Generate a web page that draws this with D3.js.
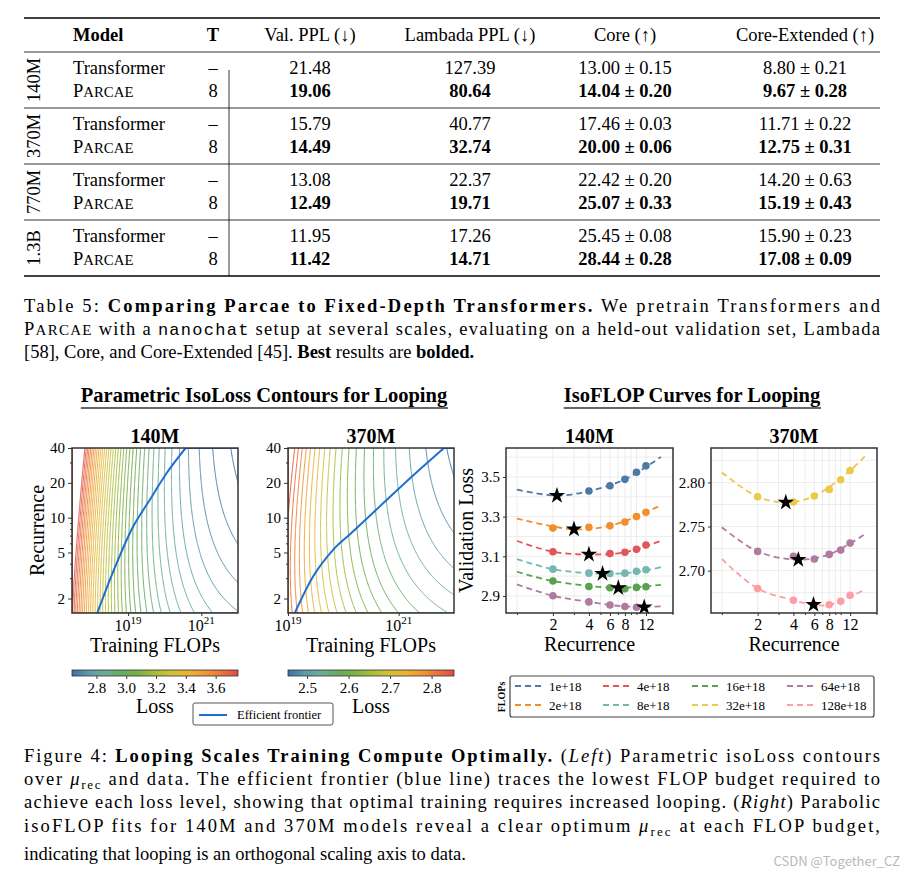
<!DOCTYPE html>
<html>
<head>
<meta charset="UTF-8" />
<script src="https://cdn.jsdelivr.net/npm/d3@7"></script>
<style>
  body { margin: 0; background: #fff; }
  svg { display: block; font-family: 'Liberation Serif', serif; }
</style>
</head>
<body>
<div id="chart"></div>
<script>
// ---- table data ----
const sizes = ['140M', '370M', '770M', '1.3B']
const tableHeaders = ['Model', 'T', 'Val. PPL (↓)', 'Lambada PPL (↓)', 'Core (↑)', 'Core-Extended (↑)']
const transformerRows = [
  ['21.48', '127.39', '13.00 ± 0.15', '8.80 ± 0.21'],
  ['15.79', '40.77', '17.46 ± 0.03', '11.71 ± 0.22'],
  ['13.08', '22.37', '22.42 ± 0.20', '14.20 ± 0.63'],
  ['11.95', '17.26', '25.45 ± 0.08', '15.90 ± 0.23'],
]
const parcaeRows = [
  ['19.06', '80.64', '14.04 ± 0.20', '9.67 ± 0.28'],
  ['14.49', '32.74', '20.00 ± 0.06', '12.75 ± 0.31'],
  ['12.49', '19.71', '25.07 ± 0.33', '15.19 ± 0.43'],
  ['11.42', '14.71', '28.44 ± 0.28', '17.08 ± 0.09'],
]

// ---- isoLoss contour fits (parametric law: L = E + a r^-p + b (r^s C0 / C)^q) ----
const fit140 = { E: 2.532, a: 0.193, p: 0.40, b: 0.688, q: 0.3, s: 0.35, C0: 18 }
const fit370 = { E: 2.356, a: 0.161, p: 0.40, b: 0.329, q: 0.3, s: 0.35, C0: 19 }
const levels140 = [2.65, 2.68, 2.71, 2.74, 2.77, 2.80, 2.83, 2.86, 2.89, 2.92, 2.95, 2.98, 3.01,
  3.04, 3.07, 3.10, 3.13, 3.16, 3.19, 3.22, 3.25, 3.28, 3.31, 3.34, 3.37, 3.40, 3.43, 3.46, 3.49,
  3.52, 3.55, 3.58, 3.61, 3.64, 3.67, 3.70, 3.73]
const levels370 = [2.46, 2.48, 2.50, 2.52, 2.54, 2.56, 2.58, 2.60, 2.62, 2.64, 2.66, 2.68, 2.70,
  2.72, 2.74, 2.76, 2.78, 2.80, 2.82, 2.84]
// efficient frontier: [log10 FLOPs, recurrence]
const frontier140 = [[18.155, 1.49], [18.50, 2.89], [18.75, 4.5], [19.09, 7.82], [19.59, 14.2], [20.05, 24.2], [20.57, 40]]
const frontier370 = [[19.12, 1.49], [19.45, 3.08], [19.81, 5.25], [20.14, 7.33], [20.65, 12.4], [21.37, 25.8], [21.82, 40]]

// ---- isoFLOP curves ----
const budgets140 = ['1e+18', '2e+18', '4e+18', '8e+18', '16e+18', '64e+18']
const budgets370 = ['32e+18', '64e+18', '128e+18']
const legendBudgets = ['1e+18', '2e+18', '4e+18', '8e+18', '16e+18', '32e+18', '64e+18', '128e+18']
const budgetColors = {
  '1e+18': '#4e79a7', '2e+18': '#f28e2b', '4e+18': '#e15759', '8e+18': '#76b7b2',
  '16e+18': '#59a14f', '32e+18': '#edc948', '64e+18': '#b07aa1', '128e+18': '#ff9da7',
}
const recurrence = [2, 4, 6, 8, 10, 12]
const loss140 = {
  '1e+18': [null, 3.429, 3.456, 3.488, 3.524, 3.556],
  '2e+18': [3.242, 3.246, 3.254, 3.273, 3.300, 3.322],
  '4e+18': [3.123, null, 3.114, 3.120, 3.135, 3.157],
  '8e+18': [3.035, 3.015, 3.013, 3.015, 3.024, 3.032],
  '16e+18': [2.975, 2.948, 2.941, 2.936, 2.943, 2.946],
  '64e+18': [2.901, 2.870, 2.854, 2.847, 2.843, null],
}
const fitCurve140 = {
  '1e+18': [[1, 3.436], [2.16, 3.406], [4, 3.429], [8, 3.488], [16, 3.601]],
  '2e+18': [[1, 3.290], [3.0, 3.236], [6, 3.254], [12, 3.322], [16, 3.357]],
  '4e+18': [[1, 3.177], [2, 3.123], [4, 3.109], [8, 3.120], [16, 3.178]],
  '8e+18': [[1, 3.086], [2, 3.035], [5.2, 3.012], [10, 3.020], [16, 3.045]],
  '16e+18': [[1, 3.022], [2, 2.975], [7, 2.941], [16, 2.956]],
  '64e+18': [[1, 2.958], [2, 2.901], [4, 2.870], [8, 2.847], [16, 2.847]],
}
const optimum140 = {
  '1e+18': [2.16, 3.406], '2e+18': [3.0, 3.236], '4e+18': [4, 3.109],
  '8e+18': [5.2, 3.012], '16e+18': [7.05, 2.940], '64e+18': [11.6, 2.843],
}
const loss370 = {
  '32e+18': [2.7838, 2.7778, 2.7846, 2.7921, 2.8030, 2.8135],
  '64e+18': [2.7218, 2.7162, 2.7132, 2.7184, 2.7233, 2.7312],
  '128e+18': [2.6797, 2.6665, 2.6617, 2.6613, 2.6654, 2.6722],
}
const fitCurve370 = {
  '32e+18': [[1, 2.8113], [2, 2.7838], [3.45, 2.7774], [6, 2.7846], [12, 2.8135], [16, 2.8297]],
  '64e+18': [[1, 2.7492], [2, 2.7218], [4.4, 2.7124], [8, 2.7184], [16, 2.7414]],
  '128e+18': [[1, 2.7132], [2, 2.6797], [4, 2.6665], [5.9, 2.6613], [8, 2.6613], [16, 2.6786]],
}
const optimum370 = { '32e+18': [3.45, 2.7774], '64e+18': [4.4, 2.7124], '128e+18': [5.9, 2.6613] }

const W = 904, H = 876
const svg = d3.select('#chart').append('svg').attr('width', W).attr('height', H)
const cmFont = "'Liberation Serif', serif"

// ================= TABLE =================
const tbl = svg.append('g').style('font-size', '18.5px').style('font-family', cmFont)
const colX = [73, 213, 310, 470, 625, 805]
tbl.append('line').attr('x1', 24).attr('x2', 880).attr('y1', 18).attr('y2', 18).attr('stroke', '#000').attr('stroke-width', 1.3)
tbl.append('line').attr('x1', 24).attr('x2', 880).attr('y1', 52).attr('y2', 52).attr('stroke', '#000').attr('stroke-width', 0.8)
tbl.append('line').attr('x1', 24).attr('x2', 880).attr('y1', 276).attr('y2', 276).attr('stroke', '#000').attr('stroke-width', 1.3)
tableHeaders.forEach((h, i) => {
  tbl.append('text').attr('x', colX[i]).attr('y', 41)
    .attr('text-anchor', i === 0 ? 'start' : 'middle')
    .attr('font-weight', i < 2 ? 'bold' : 'normal').text(h)
})
tbl.append('line').attr('x1', 229).attr('x2', 229).attr('y1', 70).attr('y2', 276).attr('stroke', '#000').attr('stroke-width', 0.8)

function smallCaps(sel, word) {
  sel.append('tspan').text(word[0])
  sel.append('tspan').style('font-size', '0.8em').text(word.slice(1).toUpperCase())
}
sizes.forEach((s, k) => {
  const y0 = 52 + k * 56
  if (k > 0) tbl.append('line').attr('x1', 24).attr('x2', 880).attr('y1', y0).attr('y2', y0).attr('stroke', '#000').attr('stroke-width', 0.8)
  tbl.append('text').attr('transform', `translate(40,${y0 + 28}) rotate(-90)`)
    .attr('text-anchor', 'middle').text(s)
  tbl.append('text').attr('x', colX[0]).attr('y', y0 + 22).text('Transformer')
  smallCaps(tbl.append('text').attr('x', colX[0]).attr('y', y0 + 45), 'Parcae')
  tbl.append('text').attr('x', colX[1]).attr('y', y0 + 22).attr('text-anchor', 'middle').text('–')
  tbl.append('text').attr('x', colX[1]).attr('y', y0 + 45).attr('text-anchor', 'middle').text('8')
  transformerRows[k].forEach((v, j) => {
    tbl.append('text').attr('x', colX[j + 2]).attr('y', y0 + 22).attr('text-anchor', 'middle').text(v)
  })
  parcaeRows[k].forEach((v, j) => {
    tbl.append('text').attr('x', colX[j + 2]).attr('y', y0 + 45).attr('text-anchor', 'middle')
      .attr('font-weight', 'bold').text(v)
  })
})

// ---- captions (justified with textLength) ----
function captionLine(y, parts, justify, x0 = 24, x1 = 880) {
  const t = svg.append('text').attr('x', x0).attr('y', y).style('font-size', '18.5px').style('font-family', cmFont)
  if (justify) t.attr('textLength', x1 - x0).attr('lengthAdjust', 'spacing')
  parts.forEach(([txt, st]) => {
    const sp = t.append('tspan').text(txt)
    if (st === 'b') sp.attr('font-weight', 'bold')
    if (st === 'i') sp.attr('font-style', 'italic')
    if (st === 'sc') sp.style('font-size', '15px')
    if (st === 'tt') sp.style('font-family', "'Liberation Mono', monospace").style('font-size', '17px')
    if (st === 'sub') sp.style('font-size', '13px').attr('dy', 4)
    if (st === 'unsub') sp.attr('dy', -4)
  })
}
captionLine(312, [['Table 5: '], ['Comparing Parcae to Fixed-Depth Transformers.', 'b'], [' We pretrain Transformers and']], true)
captionLine(335, [['P'], ['ARCAE', 'sc'], [' with a '], ['nanochat', 'tt'], [' setup at several scales, evaluating on a held-out validation set, Lambada']], true)
captionLine(358, [['[58], Core, and Core-Extended [45]. '], ['Best', 'b'], [' results are '], ['bolded.', 'b']], false)

captionLine(762, [['Figure 4: '], ['Looping Scales Training Compute Optimally.', 'b'], [' ('], ['Left', 'i'], [') Parametric isoLoss contours']], true)
captionLine(785, [['over '], ['μ', 'i'], ['rec', 'sub'], [' and data.  The efficient frontier (blue line) traces the lowest FLOP budget required to', 'unsub']], true)
captionLine(808, [['achieve each loss level, showing that optimal training requires increased looping. ('], ['Right', 'i'], [') Parabolic']], true)
captionLine(832, [['isoFLOP fits for 140M and 370M models reveal a clear optimum '], ['μ', 'i'], ['rec', 'sub'], [' at each FLOP budget,', 'unsub']], true)
captionLine(860, [['indicating that looping is an orthogonal scaling axis to data.']], false)
svg.append('text').attr('x', 900).attr('y', 866).attr('text-anchor', 'end')
  .style('font-family', "'Noto Sans CJK SC', sans-serif").style('font-size', '13px').attr('fill', '#b8b8b8')
  .text('CSDN @Together_CZ')

// ================= SECTION TITLES =================
function sectionTitle(cx, txt) {
  const t = svg.append('text').attr('x', cx).attr('y', 402).attr('text-anchor', 'middle')
    .style('font-size', '20.5px').attr('font-weight', 'bold').text(txt)
  const bb = t.node().getBBox()
  svg.append('line').attr('x1', bb.x).attr('x2', bb.x + bb.width).attr('y1', 408).attr('y2', 408)
    .attr('stroke', '#333').attr('stroke-width', 1.3)
}
sectionTitle(264, 'Parametric IsoLoss Contours for Looping')
sectionTitle(692, 'IsoFLOP Curves for Looping')

const lossColor = d3.interpolateRgbBasis(['#3b6fa6', '#7dbdb6', '#55a045', '#a9c43a', '#f1c233', '#f4912f', '#e04b4b'])
const plotTop = 448, plotBot = 613

function axisStyle(g) {
  g.selectAll('.domain').remove()
  g.selectAll('text').style('font-family', cmFont).style('font-size', '15px').attr('fill', '#000')
  g.selectAll('line').attr('stroke', '#333')
}

// ================= CONTOUR PANELS =================
function contourPanel(opt) {
  const { x0, x1, uMin, fit, levels, frontier, cbMin, cbMax, cbTicks, title, xTicks, showYLabel } = opt
  const g = svg.append('g')
  const x = d3.scaleLinear().domain([uMin, 22]).range([x0, x1])
  const y = d3.scaleLog().domain([1.5, 40]).range([plotBot, plotTop])
  const color = d3.scaleLinear().domain([cbMin, cbMax]).range([0, 1])
  const clipId = 'clip' + title
  g.append('clipPath').attr('id', clipId).append('rect')
    .attr('x', x0).attr('y', plotTop).attr('width', x1 - x0).attr('height', plotBot - plotTop)

  // evaluate the fitted law on a grid
  const nx = 220, ny = 180
  const lnR0 = Math.log(1.5), lnR1 = Math.log(40)
  const values = new Array(nx * ny)
  for (let j = 0; j < ny; j++) {
    const r = Math.exp(lnR0 + (lnR1 - lnR0) * j / (ny - 1))
    for (let i = 0; i < nx; i++) {
      const u = uMin + (22 - uMin) * i / (nx - 1)
      const cRel = Math.pow(10, u - fit.C0)
      values[j * nx + i] = fit.E + fit.a * Math.pow(r, -fit.p) + fit.b * Math.pow(Math.pow(r, fit.s) / cRel, fit.q)
    }
  }
  const proj = d3.geoTransform({
    point: function (px, py) {
      const u = uMin + (22 - uMin) * px / (nx - 1)
      const r = Math.exp(lnR0 + (lnR1 - lnR0) * py / (ny - 1))
      this.stream.point(x(u), y(r))
    },
  })
  const path = d3.geoPath(proj)
  const contours = d3.contours().size([nx, ny]).smooth(true).thresholds(levels)(values)
  g.append('g').attr('clip-path', `url(#${clipId})`).selectAll('path').data(contours).join('path')
    .attr('d', path).attr('fill', 'none')
    .attr('stroke', (d) => lossColor(color(d.value))).attr('stroke-width', 1)

  // frontier: smooth through read points, then along the r=40 ceiling
  const line = d3.line().x((d) => x(d[0])).y((d) => y(d[1])).curve(d3.curveMonotoneX)
  const last = frontier[frontier.length - 1]
  const fpath = line(frontier) + `L${x(22)},${y(last[1])}`
  g.append('path').attr('d', fpath).attr('clip-path', `url(#${clipId})`)
    .attr('fill', 'none').attr('stroke', '#1f6fd1').attr('stroke-width', 2)

  g.append('rect').attr('x', x0).attr('y', plotTop).attr('width', x1 - x0).attr('height', plotBot - plotTop)
    .attr('fill', 'none').attr('stroke', '#333').attr('stroke-width', 1.5)

  // axes
  g.append('g').attr('transform', `translate(${x0},0)`)
    .call(d3.axisLeft(y).tickValues([2, 5, 10, 20, 40]).tickFormat(d3.format('d')).tickSize(4)).call(axisStyle)
  g.append('g').attr('transform', `translate(${x0},0)`)
    .call(d3.axisLeft(y).tickValues([3, 4, 6, 7, 8, 9, 30]).tickFormat('').tickSize(2)).call(axisStyle)
  g.append('g').attr('transform', `translate(0,${plotBot})`)
    .call(d3.axisBottom(x).tickValues(xTicks).tickFormat('').tickSize(3)).call(axisStyle)
  xTicks.forEach((t) => {
    const tx = g.append('text').attr('x', x(t)).attr('y', 631).attr('text-anchor', 'middle').style('font-size', '16px')
    tx.append('tspan').text('10')
    tx.append('tspan').attr('dy', -7).style('font-size', '11px').text(String(t))
  })
  g.append('text').attr('x', (x0 + x1) / 2).attr('y', 652).attr('text-anchor', 'middle')
    .style('font-size', '20px').text('Training FLOPs')
  g.append('text').attr('x', (x0 + x1) / 2).attr('y', 443).attr('text-anchor', 'middle')
    .style('font-size', '20px').attr('font-weight', 'bold').text(title)
  if (showYLabel) {
    g.append('text').attr('transform', `translate(44,${(plotTop + plotBot) / 2}) rotate(-90)`)
      .attr('text-anchor', 'middle').style('font-size', '20px').text('Recurrence')
  }

  // colorbar
  const gradId = 'grad' + title
  const grad = g.append('defs').append('linearGradient').attr('id', gradId)
  d3.range(0, 1.0001, 0.1).forEach((t) => grad.append('stop').attr('offset', t).attr('stop-color', lossColor(t)))
  g.append('rect').attr('x', x0).attr('y', 670).attr('width', x1 - x0).attr('height', 6)
    .attr('fill', `url(#${gradId})`).attr('stroke', '#333').attr('stroke-width', 0.8)
  const cb = d3.scaleLinear().domain([cbMin, cbMax]).range([x0, x1])
  g.append('g').attr('transform', 'translate(0,676)')
    .call(d3.axisBottom(cb).tickValues(cbTicks).tickFormat(d3.format('.1f')).tickSize(3)).call(axisStyle)
  g.append('text').attr('x', (x0 + x1) / 2).attr('y', 713).attr('text-anchor', 'middle')
    .style('font-size', '20px').text('Loss')
}

contourPanel({ x0: 72, x1: 238, uMin: 17.47, fit: fit140, levels: levels140, frontier: frontier140,
  cbMin: 2.636, cbMax: 3.75, cbTicks: [2.8, 3.0, 3.2, 3.4, 3.6], title: '140M', xTicks: [19, 21], showYLabel: true })
contourPanel({ x0: 288, x1: 454, uMin: 19.0, fit: fit370, levels: levels370, frontier: frontier370,
  cbMin: 2.454, cbMax: 2.854, cbTicks: [2.5, 2.6, 2.7, 2.8], title: '370M', xTicks: [19, 21], showYLabel: false })

// frontier legend
const fl = svg.append('g')
fl.append('rect').attr('x', 193).attr('y', 703).attr('width', 140).attr('height', 22).attr('rx', 2)
  .attr('fill', '#fff').attr('stroke', '#555').attr('stroke-width', 1)
fl.append('line').attr('x1', 199).attr('x2', 227).attr('y1', 715).attr('y2', 715).attr('stroke', '#1f6fd1').attr('stroke-width', 2)
fl.append('text').attr('x', 237).attr('y', 719).style('font-size', '12.5px').text('Efficient frontier')

// ================= ISOFLOP PANELS =================
function isoPanel(opt) {
  const { x0, x1, yDom, yTicks, yGrid, fmt, budgets, loss, curves, optimum, title, showYLabel } = opt
  const g = svg.append('g')
  const x = d3.scaleLog().domain([0.81, 20.2]).range([x0, x1])
  const y = d3.scaleLinear().domain(yDom).range([plotBot, plotTop])
  const gridX = [1, 2, 3, 4, 5, 6, 7, 8, 9, 10, 12, 20]
  g.append('g').selectAll('line').data(gridX).join('line')
    .attr('x1', (d) => x(d)).attr('x2', (d) => x(d)).attr('y1', plotTop).attr('y2', plotBot)
    .attr('stroke', '#ececec').attr('stroke-width', 1)
  g.append('g').selectAll('line').data(yGrid).join('line')
    .attr('x1', x0).attr('x2', x1).attr('y1', (d) => y(d)).attr('y2', (d) => y(d))
    .attr('stroke', '#ececec').attr('stroke-width', 1)

  const line = d3.line().x((d) => x(d[0])).y((d) => y(d[1])).curve(d3.curveCatmullRom)
  budgets.forEach((b) => {
    const c = budgetColors[b]
    g.append('path').attr('d', line(curves[b])).attr('fill', 'none').attr('stroke', c)
      .attr('stroke-width', 1.8).attr('stroke-dasharray', '6,4')
    g.append('g').selectAll('circle').data(recurrence.map((r, i) => [r, loss[b][i]]).filter((d) => d[1] != null))
      .join('circle').attr('cx', (d) => x(d[0])).attr('cy', (d) => y(d[1])).attr('r', 3.8).attr('fill', c)
  })
  budgets.forEach((b) => {
    const [ox, oy] = optimum[b]
    g.append('path').attr('d', d3.symbol(d3.symbolStar, 85)())
      .attr('transform', `translate(${x(ox)},${y(oy)})`).attr('fill', '#000')
  })

  g.append('rect').attr('x', x0).attr('y', plotTop).attr('width', x1 - x0).attr('height', plotBot - plotTop)
    .attr('fill', 'none').attr('stroke', '#333').attr('stroke-width', 1.5)
  g.append('g').attr('transform', `translate(${x0},0)`)
    .call(d3.axisLeft(y).tickValues(yTicks).tickFormat(d3.format(fmt)).tickSize(3)).call(axisStyle)
  g.append('g').attr('transform', `translate(0,${plotBot})`)
    .call(d3.axisBottom(x).tickValues([2, 4, 6, 8, 12]).tickFormat(d3.format('d')).tickSize(3)).call(axisStyle)
    .selectAll('text').style('font-size', '16px')
  g.append('g').attr('transform', `translate(0,${plotBot})`)
    .call(d3.axisBottom(x).tickValues([1, 3, 5, 7, 9, 10, 20]).tickFormat('').tickSize(2)).call(axisStyle)
  g.append('text').attr('x', (x0 + x1) / 2).attr('y', 651).attr('text-anchor', 'middle')
    .style('font-size', '20px').text('Recurrence')
  g.append('text').attr('x', (x0 + x1) / 2).attr('y', 443).attr('text-anchor', 'middle')
    .style('font-size', '20px').attr('font-weight', 'bold').text(title)
  if (showYLabel) {
    g.append('text').attr('transform', `translate(473,${(plotTop + plotBot) / 2}) rotate(-90)`)
      .attr('text-anchor', 'middle').style('font-size', '20px').text('Validation Loss')
  }
}

isoPanel({ x0: 506, x1: 673, yDom: [2.814, 3.646], yTicks: [2.9, 3.1, 3.3, 3.5],
  yGrid: [2.9, 3.0, 3.1, 3.2, 3.3, 3.4, 3.5, 3.6], fmt: '.1f', budgets: budgets140, loss: loss140,
  curves: fitCurve140, optimum: optimum140, title: '140M', showYLabel: true })
isoPanel({ x0: 711, x1: 877, yDom: [2.652, 2.839], yTicks: [2.70, 2.75, 2.80],
  yGrid: [2.675, 2.70, 2.725, 2.75, 2.775, 2.80, 2.825], fmt: '.2f', budgets: budgets370, loss: loss370,
  curves: fitCurve370, optimum: optimum370, title: '370M', showYLabel: false })

// isoFLOP legend
const lg = svg.append('g')
lg.append('rect').attr('x', 510).attr('y', 676).attr('width', 364).attr('height', 41).attr('rx', 2)
  .attr('fill', '#fff').attr('stroke', '#444').attr('stroke-width', 1.2)
lg.append('text').attr('transform', 'translate(505,697) rotate(-90)').attr('text-anchor', 'middle')
  .style('font-size', '10px').attr('font-weight', 'bold').text('FLOPs')
const legCols = [515, 603, 692, 787]
legendBudgets.forEach((b, i) => {
  const cx = legCols[Math.floor(i / 2)], cy = i % 2 === 0 ? 686 : 705
  lg.append('line').attr('x1', cx).attr('x2', cx + 28).attr('y1', cy).attr('y2', cy)
    .attr('stroke', budgetColors[b]).attr('stroke-width', 1.8).attr('stroke-dasharray', '6,4')
  lg.append('text').attr('x', cx + 34).attr('y', cy + 4.5).style('font-size', '13px').text(b)
})
</script>
</body>
</html>
